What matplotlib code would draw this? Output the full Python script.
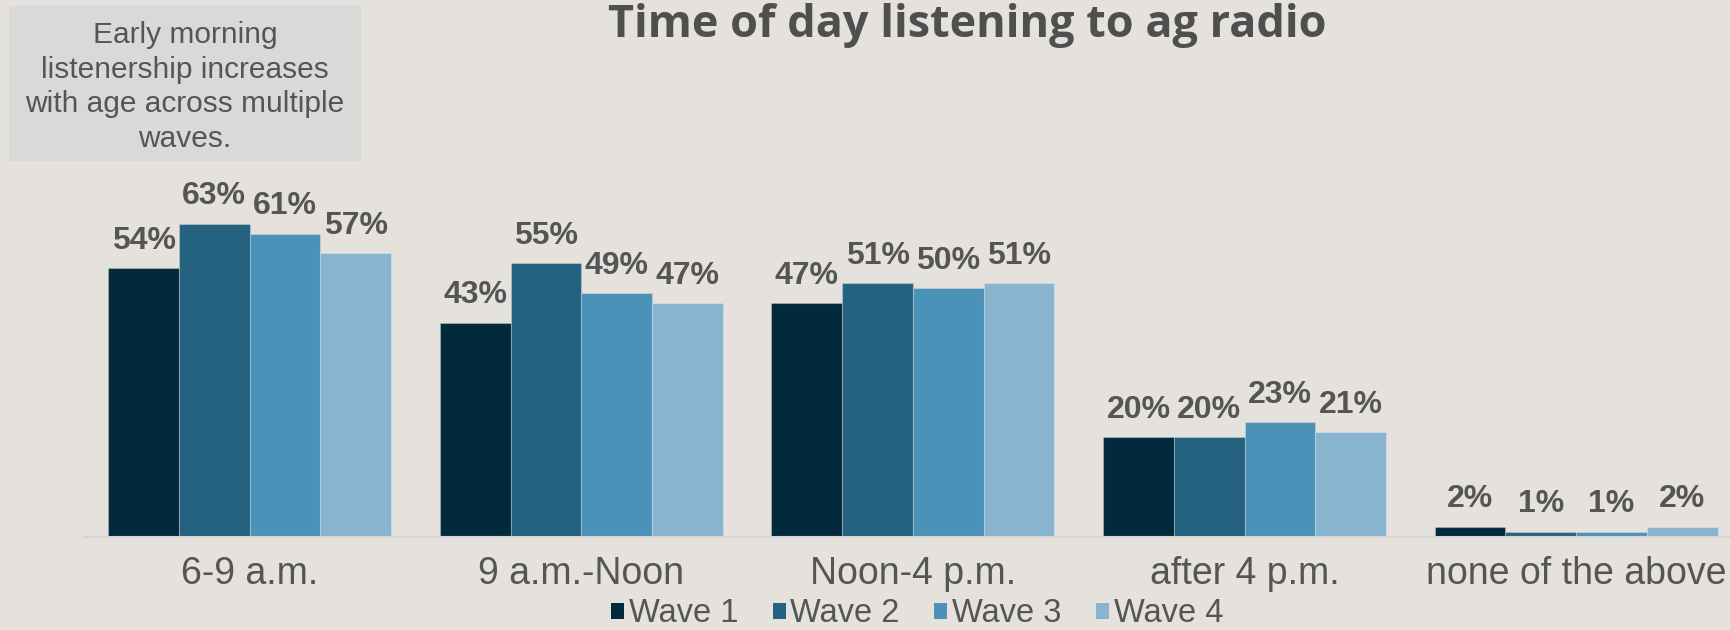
import matplotlib.pyplot as plt
import numpy as np
from matplotlib.patches import Patch, Rectangle

categories = ["6-9 a.m.", "9 a.m.-Noon", "Noon-4 p.m.", "after 4 p.m.", "none of the above"]
waves = ["Wave 1", "Wave 2", "Wave 3", "Wave 4"]
wave1 = [54, 43, 47, 20, 2]
wave2 = [63, 55, 51, 20, 1]
wave3 = [61, 49, 50, 23, 1]
wave4 = [57, 47, 51, 21, 2]
series = [wave1, wave2, wave3, wave4]

colors = ["#022a3d", "#256280", "#4b92b8", "#89b4cf"]
bg = "#e5e2dd"
txt = "#555555"

W, H = 1731, 630
fig = plt.figure(figsize=(W / 100, H / 100), dpi=100, facecolor=bg)
ax = fig.add_axes([83.8 / W, (H - 536.7) / H, (W - 83.8) / W, 497 / H])
ax.set_facecolor("none")

x = np.arange(len(categories))
w = 0.2132
for i, (vals, c) in enumerate(zip(series, colors)):
    pos = x + (i - 1.5) * w
    ax.bar(pos, vals, width=w, color=c, edgecolor=(1, 1, 1, 0.25), linewidth=0.8)
    for px, v in zip(pos, vals):
        ax.annotate(f"{v}%", (px, v), xytext=(0, 9), textcoords="offset points",
                    ha="center", va="bottom", fontsize=23, fontweight="bold",
                    color=txt, family="Liberation Sans")

ax.set_xlim(-0.5, 4.467)
ax.set_ylim(0, 100)
ax.set_yticks([])
ax.set_xticks(x)
ax.set_xticklabels(categories, fontsize=27, color=txt, family="Liberation Sans")
ax.tick_params(axis="x", length=0, pad=14)
for s in ["top", "left", "right"]:
    ax.spines[s].set_visible(False)
ax.spines["bottom"].set_color("#d6d4d1")
ax.spines["bottom"].set_linewidth(1.5)

# title, scaled to the width it has in the reference
title = fig.text(967 / W, 1 - 36.5 / H, "Time of day listening to ag radio", ha="center",
                 va="baseline", fontsize=28, fontweight="bold", color="#4f4f4f",
                 family="Open Sans")
fig.canvas.draw()
tw = title.get_window_extent().width
title.set_fontsize(28 * 716 / tw)

fig.patches.append(Rectangle((9 / W, (H - 161) / H), 352 / W, 155.5 / H,
                             transform=fig.transFigure, facecolor="#d9d9d9",
                             edgecolor="none"))
fig.text(185 / W, 1 - 87 / H,
         "Early morning\nlistenership increases\nwith age across multiple\nwaves.",
         ha="center", va="center", fontsize=21.5, color=txt, linespacing=1.29,
         family="Liberation Sans")

handles = [Patch(facecolor=c, edgecolor="none") for c in colors]
fig.legend(handles, waves, loc="center", bbox_to_anchor=(917 / W, 1 - 614 / H),
           ncol=4, frameon=False, handlelength=0.4, handleheight=0.4,
           handletextpad=0.15, columnspacing=1.05, borderpad=0,
           prop={"family": "Liberation Sans", "size": 23.5}, labelcolor=txt)

fig.savefig("out.png", dpi=100, facecolor=bg)
